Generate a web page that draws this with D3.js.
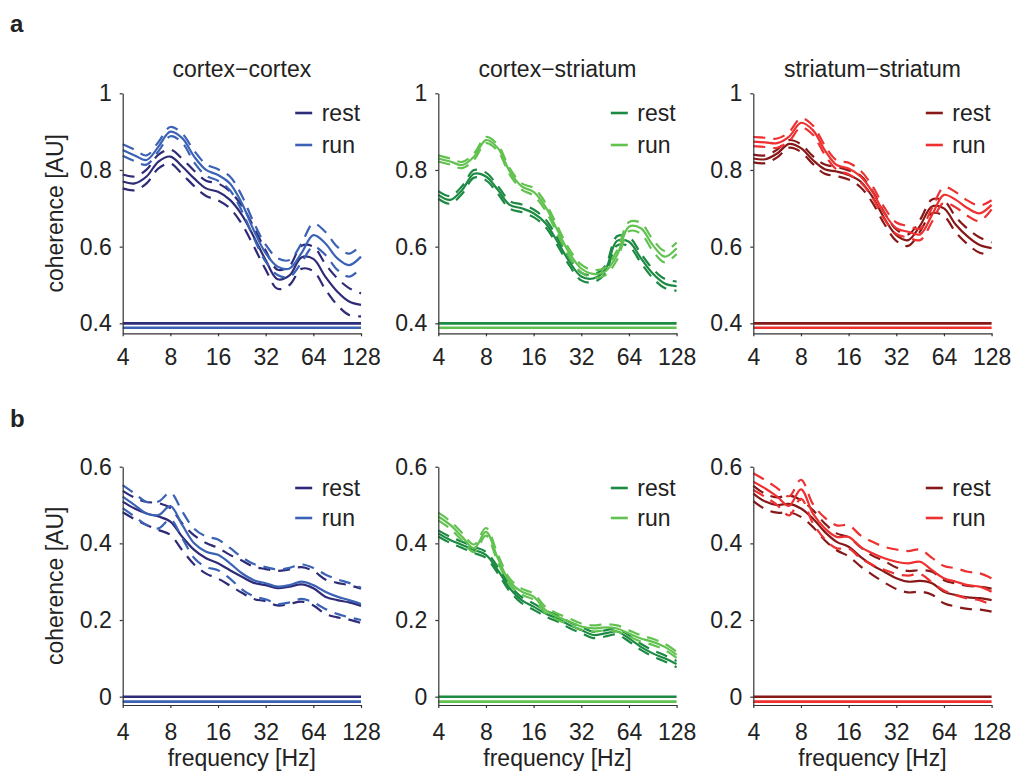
<!DOCTYPE html>
<html><head><meta charset="utf-8">
<script src="https://cdn.jsdelivr.net/npm/d3@7"></script>
<style>
body{margin:0;background:#fff;}
text{font-family:"Liberation Sans",Arial,Helvetica,sans-serif;fill:#222;}
</style></head>
<body><svg id="chart" width="1013" height="773"></svg>
<script>
// ---------------- data ----------------
const freqs = [4, 4.76, 5.66, 6.73, 8, 9.51, 11.31, 13.45, 16, 19.03, 22.63, 26.91, 32, 38.05, 45.25, 53.82, 64, 76.11, 90.51, 107.63, 128];
const xTickValues = [4, 8, 16, 32, 64, 128];
const yTicksTop = [0.4, 0.6, 0.8, 1];
const yTicksBottom = [0, 0.2, 0.4, 0.6];
const regionTitles = ["cortex\u2212cortex", "cortex\u2212striatum", "striatum\u2212striatum"];
const conditions = ["rest", "run"];
const sigLevelsTop = [0.4, 0.3885];
const sigLevelsBottom = [0, -0.013];

// row a : coherence
const aCCRestMean = [0.770, 0.765, 0.783, 0.822, 0.835, 0.809, 0.778, 0.752, 0.743, 0.722, 0.683, 0.626, 0.565, 0.515, 0.525, 0.572, 0.568, 0.522, 0.483, 0.457, 0.448];
const aCCRestSem  = [0.018, 0.018, 0.018, 0.018, 0.018, 0.020, 0.020, 0.020, 0.022, 0.022, 0.024, 0.025, 0.025, 0.025, 0.025, 0.030, 0.032, 0.033, 0.035, 0.035, 0.030];
const aCCRunMean  = [0.852, 0.838, 0.826, 0.861, 0.900, 0.883, 0.835, 0.800, 0.787, 0.765, 0.713, 0.643, 0.583, 0.548, 0.543, 0.583, 0.630, 0.609, 0.570, 0.552, 0.574];
const aCCRunSem   = [0.015, 0.015, 0.012, 0.012, 0.012, 0.012, 0.015, 0.015, 0.015, 0.018, 0.020, 0.020, 0.022, 0.022, 0.022, 0.025, 0.030, 0.030, 0.030, 0.030, 0.030];

const aCSRestMean = [0.735, 0.722, 0.748, 0.790, 0.783, 0.748, 0.709, 0.700, 0.687, 0.661, 0.613, 0.561, 0.522, 0.517, 0.539, 0.615, 0.613, 0.570, 0.530, 0.504, 0.497];
const aCSRestSem  = [0.010, 0.010, 0.010, 0.010, 0.010, 0.010, 0.010, 0.010, 0.010, 0.010, 0.010, 0.010, 0.010, 0.010, 0.010, 0.012, 0.012, 0.012, 0.012, 0.012, 0.012];
const aCSRunMean  = [0.830, 0.822, 0.813, 0.835, 0.878, 0.857, 0.796, 0.757, 0.743, 0.704, 0.643, 0.583, 0.543, 0.529, 0.535, 0.578, 0.652, 0.648, 0.604, 0.574, 0.596];
const aCSRunSem   = [0.008, 0.008, 0.008, 0.008, 0.008, 0.008, 0.008, 0.008, 0.010, 0.010, 0.010, 0.010, 0.010, 0.010, 0.010, 0.012, 0.012, 0.014, 0.015, 0.015, 0.015];

const aSSRestMean = [0.830, 0.828, 0.843, 0.868, 0.857, 0.826, 0.802, 0.796, 0.787, 0.770, 0.730, 0.674, 0.630, 0.617, 0.655, 0.705, 0.700, 0.657, 0.626, 0.604, 0.596];
const aSSRestSem  = [0.010, 0.010, 0.010, 0.010, 0.010, 0.010, 0.012, 0.012, 0.012, 0.015, 0.015, 0.015, 0.015, 0.015, 0.015, 0.018, 0.020, 0.020, 0.020, 0.020, 0.015];
const aSSRunMean  = [0.874, 0.872, 0.870, 0.887, 0.923, 0.904, 0.852, 0.813, 0.804, 0.783, 0.743, 0.687, 0.648, 0.639, 0.632, 0.683, 0.735, 0.722, 0.700, 0.687, 0.709];
const aSSRunSem   = [0.012, 0.012, 0.012, 0.012, 0.012, 0.012, 0.012, 0.012, 0.015, 0.015, 0.015, 0.015, 0.015, 0.015, 0.015, 0.018, 0.020, 0.020, 0.020, 0.020, 0.012];

// row b : coherence (second measure)
const bCCRestMean = [0.509, 0.491, 0.478, 0.470, 0.457, 0.417, 0.383, 0.361, 0.348, 0.330, 0.313, 0.297, 0.291, 0.283, 0.287, 0.293, 0.283, 0.261, 0.252, 0.246, 0.237];
const bCCRestSem  = [0.028, 0.028, 0.030, 0.035, 0.035, 0.035, 0.038, 0.040, 0.040, 0.040, 0.042, 0.042, 0.042, 0.045, 0.045, 0.045, 0.045, 0.045, 0.045, 0.045, 0.045];
const bCCRunMean  = [0.522, 0.500, 0.478, 0.474, 0.497, 0.448, 0.400, 0.378, 0.370, 0.348, 0.322, 0.304, 0.296, 0.287, 0.291, 0.300, 0.291, 0.274, 0.261, 0.252, 0.242];
const bCCRunSem   = [0.030, 0.030, 0.030, 0.035, 0.035, 0.035, 0.038, 0.040, 0.040, 0.040, 0.042, 0.042, 0.042, 0.045, 0.045, 0.045, 0.045, 0.045, 0.045, 0.045, 0.042];

const bCSRestMean = [0.426, 0.409, 0.396, 0.383, 0.370, 0.330, 0.283, 0.252, 0.235, 0.217, 0.204, 0.187, 0.174, 0.161, 0.165, 0.170, 0.152, 0.130, 0.113, 0.100, 0.085];
const bCSRestSem  = [0.008, 0.008, 0.008, 0.008, 0.008, 0.008, 0.008, 0.008, 0.008, 0.008, 0.008, 0.008, 0.008, 0.008, 0.008, 0.008, 0.008, 0.008, 0.008, 0.008, 0.008];
const bCSRunMean  = [0.470, 0.448, 0.417, 0.387, 0.430, 0.361, 0.300, 0.274, 0.261, 0.226, 0.209, 0.196, 0.183, 0.178, 0.181, 0.178, 0.165, 0.152, 0.143, 0.130, 0.109];
const bCSRunSem   = [0.010, 0.010, 0.010, 0.010, 0.010, 0.010, 0.008, 0.008, 0.008, 0.008, 0.008, 0.008, 0.008, 0.008, 0.008, 0.008, 0.008, 0.008, 0.008, 0.008, 0.008];

const bSSRestMean = [0.530, 0.509, 0.500, 0.503, 0.491, 0.465, 0.430, 0.404, 0.391, 0.365, 0.343, 0.326, 0.309, 0.300, 0.302, 0.296, 0.274, 0.265, 0.259, 0.257, 0.252];
const bSSRestSem  = [0.020, 0.020, 0.020, 0.022, 0.022, 0.022, 0.022, 0.022, 0.025, 0.025, 0.025, 0.028, 0.028, 0.028, 0.028, 0.030, 0.030, 0.030, 0.030, 0.030, 0.030];
const bSSRunMean  = [0.561, 0.543, 0.522, 0.498, 0.541, 0.478, 0.439, 0.417, 0.417, 0.391, 0.374, 0.361, 0.352, 0.348, 0.352, 0.330, 0.309, 0.300, 0.291, 0.287, 0.274];
const bSSRunSem   = [0.022, 0.022, 0.022, 0.025, 0.025, 0.025, 0.028, 0.030, 0.030, 0.030, 0.030, 0.030, 0.032, 0.032, 0.032, 0.032, 0.032, 0.035, 0.035, 0.035, 0.035];

const colorsCC = ["#2e2b78", "#3b62b5"];
const colorsCS = ["#1c8a43", "#62c250"];
const colorsSS = ["#861818", "#ee3030"];

// ---------------- layout ----------------
const svg = d3.select("#chart");
const colX = [122.7, 438.3, 753.3];
const plotW = 238.3;

const rows = [
  { label: "a", labelY: 32, yDomain: [0.374, 1], yRange: [333.3, 93.3], yTicks: yTicksTop, sig: sigLevelsTop,
    tickPad: 12.4, legendY: [113, 145], showTitle: true, showXLabel: false,
    panels: [
      { colors: colorsCC, series: [[aCCRestMean, aCCRestSem], [aCCRunMean, aCCRunSem]] },
      { colors: colorsCS, series: [[aCSRestMean, aCSRestSem], [aCSRunMean, aCSRunSem]] },
      { colors: colorsSS, series: [[aSSRestMean, aSSRestSem], [aSSRunMean, aSSRunSem]] }
    ]},
  { label: "b", labelY: 427, yDomain: [-0.0217, 0.6], yRange: [705, 466.7], yTicks: yTicksBottom, sig: sigLevelsBottom,
    tickPad: 15.5, legendY: [488, 518], showTitle: false, showXLabel: true,
    panels: [
      { colors: colorsCC, series: [[bCCRestMean, bCCRestSem], [bCCRunMean, bCCRunSem]] },
      { colors: colorsCS, series: [[bCSRestMean, bCSRestSem], [bCSRunMean, bCSRunSem]] },
      { colors: colorsSS, series: [[bSSRestMean, bSSRestSem], [bSSRunMean, bSSRunSem]] }
    ]}
];

rows.forEach(row => {
  svg.append("text").attr("x", 10).attr("y", row.labelY)
    .style("font-size", "24px").style("font-weight", "bold").text(row.label);

  row.panels.forEach((p, ci) => {
    const x0 = colX[ci];
    const x = d3.scaleLog().base(2).domain([4, 128]).range([x0, x0 + plotW]);
    const y = d3.scaleLinear().domain(row.yDomain).range(row.yRange);
    const g = svg.append("g");

    // significance bars
    row.sig.forEach((lv, k) => {
      g.append("line").attr("x1", x(4)).attr("x2", x(128))
        .attr("y1", y(lv)).attr("y2", y(lv))
        .attr("stroke", p.colors[k]).attr("stroke-width", 2.6);
    });

    const line = d3.line().x((d, i) => x(freqs[i])).y(d => y(d)).curve(d3.curveCatmullRom.alpha(0.5));

    p.series.forEach(([mean, sem], k) => {
      const up = mean.map((m, i) => m + sem[i]);
      const lo = mean.map((m, i) => m - sem[i]);
      [up, lo].forEach(arr => {
        g.append("path").attr("d", line(arr)).attr("fill", "none")
          .attr("stroke", p.colors[k]).attr("stroke-width", 2.2)
          .attr("stroke-dasharray", "12,8");
      });
      g.append("path").attr("d", line(mean)).attr("fill", "none")
        .attr("stroke", p.colors[k]).attr("stroke-width", 2.2);
    });

    // axes
    const xAxis = d3.axisBottom(x).tickValues(xTickValues).tickFormat(d3.format("d"))
      .tickSize(3).tickSizeOuter(0).tickPadding(row.tickPad);
    const yAxis = d3.axisLeft(y).tickValues(row.yTicks).tickFormat(d3.format("~g"))
      .tickSize(3).tickSizeOuter(0).tickPadding(8);
    const gx = g.append("g").attr("transform", `translate(0,${row.yRange[0]})`).call(xAxis);
    const gy = g.append("g").attr("transform", `translate(${x0},0)`).call(yAxis);
    [gx, gy].forEach(a => {
      a.select(".domain").attr("stroke", "#333").attr("stroke-width", 1.2);
      a.selectAll(".tick line").attr("stroke", "#333").attr("stroke-width", 1.2);
      a.selectAll(".tick text").style("font-size", "23px").style("font-family", '"Liberation Sans",Arial,sans-serif').attr("fill", "#222");
    });

    // legend
    conditions.forEach((c, k) => {
      const ly = row.legendY[k];
      g.append("line").attr("x1", x0 + 172.5).attr("x2", x0 + 189.5)
        .attr("y1", ly).attr("y2", ly).attr("stroke", p.colors[k]).attr("stroke-width", 2.6);
      g.append("text").attr("x", x0 + 199).attr("y", ly).attr("dy", "0.35em")
        .style("font-size", "23px").text(c);
    });

    if (row.showTitle) {
      g.append("text").attr("x", x0 + plotW / 2).attr("y", 77).attr("text-anchor", "middle")
        .style("font-size", "23px").text(regionTitles[ci]);
    }
    if (row.showXLabel) {
      g.append("text").attr("x", x0 + plotW / 2).attr("y", 766).attr("text-anchor", "middle")
        .style("font-size", "23px").text("frequency [Hz]");
    }
    if (ci === 0) {
      const cy = (row.yRange[0] + row.yRange[1]) / 2;
      g.append("text").attr("transform", `translate(55,${cy}) rotate(-90)`)
        .attr("text-anchor", "middle").attr("dy", "0.35em")
        .style("font-size", "23px").text("coherence [AU]");
    }
  });
});
</script>
</body></html>
